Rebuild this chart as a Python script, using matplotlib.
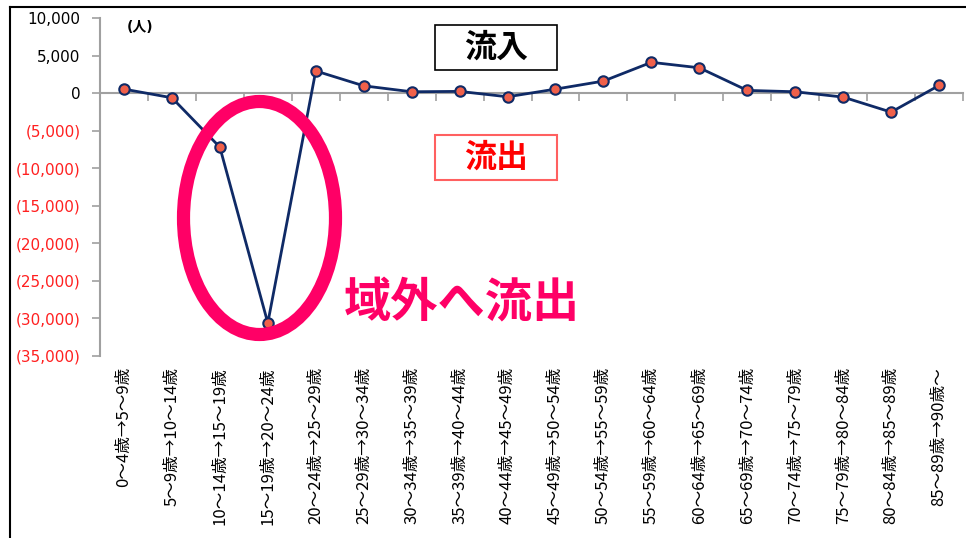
import matplotlib
matplotlib.use("Agg")
import matplotlib.pyplot as plt
from matplotlib.patches import Ellipse, Rectangle
from matplotlib.lines import Line2D

plt.rcParams['font.family'] = ['DejaVu Sans', 'Noto Sans CJK JP']

# Net migration by age cohort transition (persons)
cohorts = [
    "0～4歳→5～9歳", "5～9歳→10～14歳", "10～14歳→15～19歳", "15～19歳→20～24歳",
    "20～24歳→25～29歳", "25～29歳→30～34歳", "30～34歳→35～39歳", "35～39歳→40～44歳",
    "40～44歳→45～49歳", "45～49歳→50～54歳", "50～54歳→55～59歳", "55～59歳→60～64歳",
    "60～64歳→65～69歳", "65～69歳→70～74歳", "70～74歳→75～79歳", "75～79歳→80～84歳",
    "80～84歳→85～89歳", "85～89歳→90歳～",
]
net_migration = [530, -620, -7200, -30600, 2950, 970, 180, 230, -490, 530,
                 1600, 4100, 3370, 360, 180, -530, -2530, 1020]
y_ticks = [10000, 5000, 0, -5000, -10000, -15000, -20000, -25000, -30000, -35000]

W, H = 966, 538
fig = plt.figure(figsize=(W / 100, H / 100), dpi=100)
fig.patch.set_facecolor("white")

def fx(px):
    return px / W

def fy(py):
    return 1 - py / H

ax = fig.add_axes([fx(100), fy(356), fx(963) - fx(100), fy(18) - fy(356)])
x = list(range(len(cohorts)))
ax.plot(x, net_migration, color="#0F2A66", lw=2, marker="o", ms=7.5,
        mfc="#F0604A", mec="#0F2A66", mew=1.5, zorder=5, clip_on=False)

ax.set_xlim(-0.5, len(cohorts) - 0.5)
ax.set_ylim(-35000, 10000)

# y axis
ax.set_yticks(y_ticks)
ax.set_yticklabels([f"{v:,}" if v >= 0 else f"({-v:,})" for v in y_ticks])
for lab, v in zip(ax.get_yticklabels(), y_ticks):
    lab.set_color("black" if v >= 0 else "#FF2020")
    lab.set_fontsize(11)
ax.tick_params(axis="y", direction="out", length=6, width=1.2, color="#A0A0A0", pad=8)
for s in ["top", "right", "bottom"]:
    ax.spines[s].set_visible(False)
ax.spines["left"].set_color("#A0A0A0")
ax.spines["left"].set_linewidth(1.5)

# category labels along the bottom
ax.set_xticks(x)
ax.set_xticklabels(cohorts, rotation=90, fontsize=12,
                   family=["Noto Sans CJK JP", "DejaVu Sans"])
ax.tick_params(axis="x", length=0, pad=8)

# zero line with category boundary ticks
zero_frac = (0 - (-35000)) / (10000 - (-35000))
sec = ax.secondary_xaxis(zero_frac)
for s in sec.spines.values():
    s.set_color("#A0A0A0")
    s.set_linewidth(1.5)
boundaries = [i - 0.5 for i in range(len(cohorts) + 1)]
sec.set_xticks(boundaries, labels=[""] * len(boundaries))
sec.xaxis.set_ticks_position("bottom")
sec.tick_params(axis="x", direction="out", length=6, width=1.2, color="#A0A0A0",
                bottom=True, top=False, labelbottom=False, labeltop=False)

# unit label
fig.text(fx(140), fy(27), "(人)", fontsize=10, fontweight="bold", ha="center", va="center",
         family=["DejaVu Sans", "Noto Sans CJK JP"])

# inflow / outflow boxes
fig.add_artist(Rectangle((fx(435), fy(70)), fx(557) - fx(435), fy(25) - fy(70),
                         transform=fig.transFigure, fill=True, fc="white",
                         ec="black", lw=1.2, zorder=6))
fig.text(fx(496), fy(48), "流入", fontsize=23, fontweight="bold", ha="center", va="center",
         family=["Noto Sans CJK JP"], zorder=7)
fig.add_artist(Rectangle((fx(435), fy(180)), fx(557) - fx(435), fy(135) - fy(180),
                         transform=fig.transFigure, fill=True, fc="white",
                         ec="#FF6060", lw=1.5, zorder=6))
fig.text(fx(496), fy(158), "流出", fontsize=23, fontweight="bold", color="#FF0000",
         ha="center", va="center", family=["Noto Sans CJK JP"], zorder=7)

# highlight of the large outflow
fig.add_artist(Ellipse((fx(259.5), fy(218)), fx(152), 233 / H,
                       transform=fig.transFigure, fill=False, ec="#FF0066",
                       lw=9.5, zorder=8))
fig.text(fx(462), fy(302), "域外へ流出", fontsize=34, fontweight="bold", color="#FF0066",
         ha="center", va="center", family=["Noto Sans CJK JP"], zorder=8)

# outer frame
fig.add_artist(Line2D([fx(10), fx(10)], [0, fy(7)], transform=fig.transFigure,
                      color="black", lw=1.5))
fig.add_artist(Line2D([fx(10), 1], [fy(7), fy(7)], transform=fig.transFigure,
                      color="black", lw=1.5))

fig.savefig("out.png", dpi=100, facecolor="white")
